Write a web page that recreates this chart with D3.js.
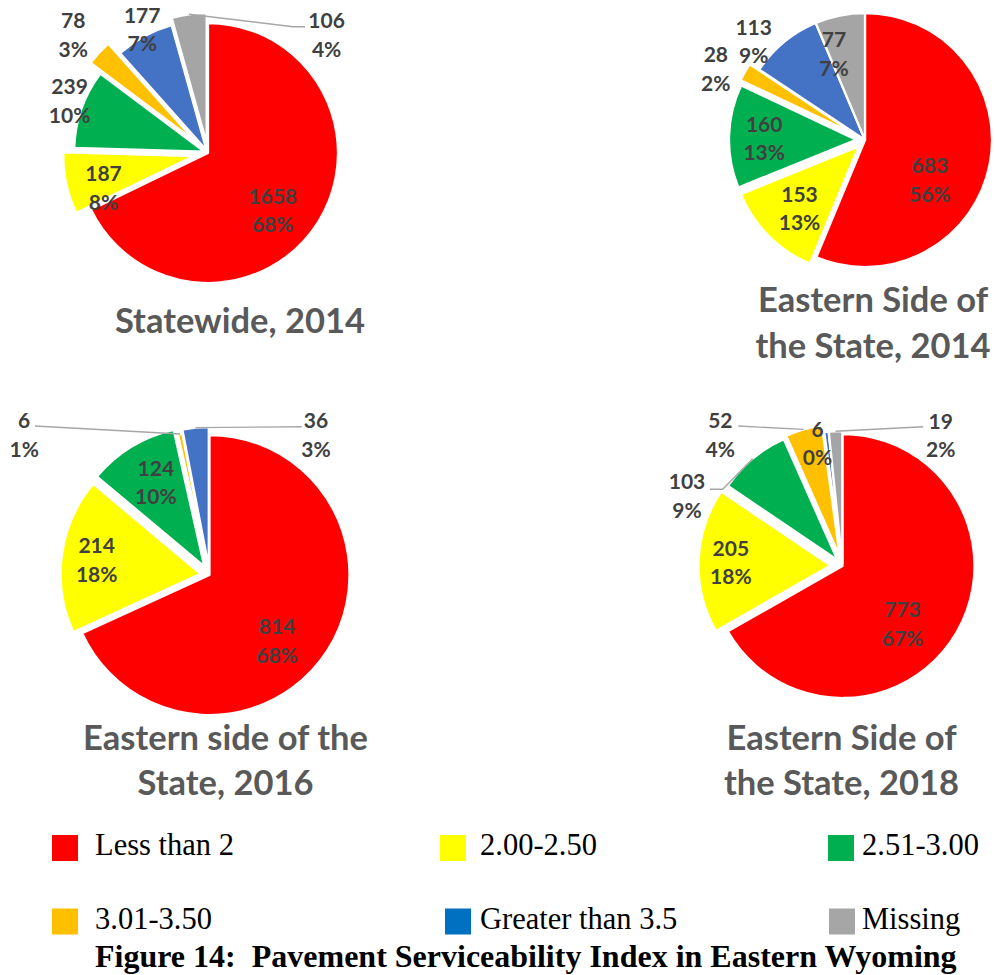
<!DOCTYPE html>
<html><head><meta charset="utf-8">
<script src="https://cdn.jsdelivr.net/npm/d3@7"></script>
<style>body{margin:0;background:#fff}svg{display:block}</style>
</head><body>
<svg id="chart" width="995" height="975"></svg>
<script>
// ---------- data ----------
const categories = ["Less than 2","2.00-2.50","2.51-3.00","3.01-3.50","Greater than 3.5","Missing"];
const statewide2014 = [1658,187,239,78,177,106];
const eastern2014   = [683,153,160,28,113,77];
const eastern2016   = [814,214,124,6,36,0];
const eastern2018   = [773,205,103,52,6,19];
const pctStatewide2014 = ["68%","8%","10%","3%","7%","4%"];
const pctEastern2014   = ["56%","13%","13%","2%","9%","7%"];
const pctEastern2016   = ["68%","18%","10%","1%","3%",""];
const pctEastern2018   = ["67%","18%","9%","4%","0%","2%"];
const chartTitles = [["Statewide, 2014"],["Eastern Side of","the State, 2014"],["Eastern side of the","State, 2016"],["Eastern Side of","the State, 2018"]];
const captionText = "Figure 14:  Pavement Serviceability Index in Eastern Wyoming";
const sliceColors  = ["#FF0000","#FFFF00","#00B050","#FFC000","#4472C4","#A5A5A5"];
const legendColors = ["#FF0000","#FFFF00","#00B050","#FFC000","#0070C0","#A6A6A6"];

// ---------- layout ----------
const layout = [
  {values:statewide2014, pcts:pctStatewide2014, title:chartTitles[0], cx:208, cy:153, R:130,
   explode:[0,15,4,18,3,10],
   labels:[[64.7,57.5],[-104.5,35.2],[-138.4,-51.9],[-134.8,-118],[-65.8,-123.4],[118.6,-118]],
   leaders:{5:[[85,-126.3],[97,-126.3]]},
   tx:240, ty:[333]},
  {values:eastern2014, pcts:pctEastern2014, title:chartTitles[1], cx:865, cy:140, R:127,
   explode:[0,9,9,11,0,0],
   labels:[[64.8,40],[-65.5,68.3],[-100.8,-1.7],[-149.2,-71],[-111.3,-98.7],[-31,-86.2]],
   leaders:{},
   tx:873, ty:[312,357.5]},
  {values:eastern2016, pcts:pctEastern2016, title:chartTitles[2], cx:209.5, cy:575, R:140,
   explode:[0,9,10,4,8,0],
   labels:[[67.5,65.8],[-112.8,-15],[-53.7,-92.3],[-185.3,-140],[106.5,-140],[0,0]],
   leaders:{3:[[-174.5,-149]],4:[[92.2,-148.3]]},
   tx:225.5, ty:[750,795]},
  {values:eastern2018, pcts:pctEastern2018, title:chartTitles[3], cx:842.5, cy:566, R:132,
   explode:[0,12,8,10,3,3],
   labels:[[60,58.2],[-111.7,-3.5],[-155.5,-70],[-122.2,-131],[-25,-122.7],[98.2,-130.6]],
   leaders:{2:[[-119.8,-76.7],[-132.5,-76.7]],3:[[-104.2,-140]],5:[[80.8,-139.3]]},
   tx:841.5, ty:[750,795]}
];

const svg = d3.select("#chart");
const labelFont = "Lato, 'Open Sans', sans-serif";
const labelSize = 21, lineGap = 28.5;

const pie = d3.pie().sort(null).value(d => d).startAngle(0).endAngle(2*Math.PI);

layout.forEach(ch => {
  const g = svg.append("g").attr("transform", `translate(${ch.cx},${ch.cy})`);
  const arcs = pie(ch.values);
  const arc = d3.arc().innerRadius(0).outerRadius(ch.R);
  const off = (a, d) => [d*Math.sin(a), -d*Math.cos(a)];

  // slices
  g.selectAll("path.slice").data(arcs).join("path")
    .attr("class","slice")
    .attr("d", d => d.value > 0 ? arc(d) : null)
    .attr("transform", (d,i) => {
      const m = (d.startAngle + d.endAngle)/2;
      const [ox, oy] = off(m, ch.explode[i]);
      return `translate(${ox},${oy})`;
    })
    .attr("fill", (d,i) => sliceColors[i])
    .attr("stroke", "#fff")
    .attr("stroke-width", 2.25)
    .attr("stroke-linejoin", "round");

  // leader lines
  Object.keys(ch.leaders).forEach(k => {
    const i = +k, d = arcs[i];
    const m = (d.startAngle + d.endAngle)/2;
    const start = off(m, ch.R + ch.explode[i]);
    const pts = [start].concat(ch.leaders[k]);
    g.append("path")
      .attr("d", d3.line()(pts))
      .attr("fill","none")
      .attr("stroke","#A6A6A6")
      .attr("stroke-width",1.4);
  });

  // labels
  arcs.forEach((d,i) => {
    if (d.value <= 0) return;
    const [lx, ly] = ch.labels[i];
    const t = g.append("text")
      .attr("text-anchor","middle")
      .attr("font-family", labelFont)
      .attr("font-weight","bold")
      .attr("font-size", labelSize)
      .attr("fill","#404040");
    t.append("tspan").attr("x", lx).attr("y", ly - lineGap/2 + 7.5).text(d3.format("d")(d.value));
    t.append("tspan").attr("x", lx).attr("y", ly + lineGap/2 + 7.5).text(ch.pcts[i]);
  });

  // title
  const tt = svg.append("text")
    .attr("text-anchor","middle")
    .attr("font-family", labelFont)
    .attr("font-weight","bold")
    .attr("font-size", 34.5)
    .attr("fill","#595959");
  ch.title.forEach((line, j) => tt.append("tspan").attr("x", ch.tx).attr("y", ch.ty[j]).text(line));
});

// legend
const legendSq = [[52,835],[440,835],[828,835],[52,908.5],[445,908.5],[829,908.5]];
const legendTx = [[95,855],[480,855],[862,855],[95,929],[480,929],[862,929]];
const lg = svg.append("g");
categories.forEach((c,i) => {
  lg.append("rect").attr("x", legendSq[i][0]).attr("y", legendSq[i][1])
    .attr("width",26).attr("height",26).attr("fill", legendColors[i]);
  lg.append("text").attr("x", legendTx[i][0]).attr("y", legendTx[i][1])
    .attr("font-family","'Liberation Serif', 'Times New Roman', serif")
    .attr("font-size",30.5).attr("fill","#000").text(c);
});

// caption
svg.append("text").attr("x",95).attr("y",967)
  .attr("font-family","'Liberation Serif', 'Times New Roman', serif")
  .attr("font-weight","bold").attr("font-size",32)
  .style("white-space","pre")
  .attr("fill","#000").text(captionText);
</script>
</body></html>
